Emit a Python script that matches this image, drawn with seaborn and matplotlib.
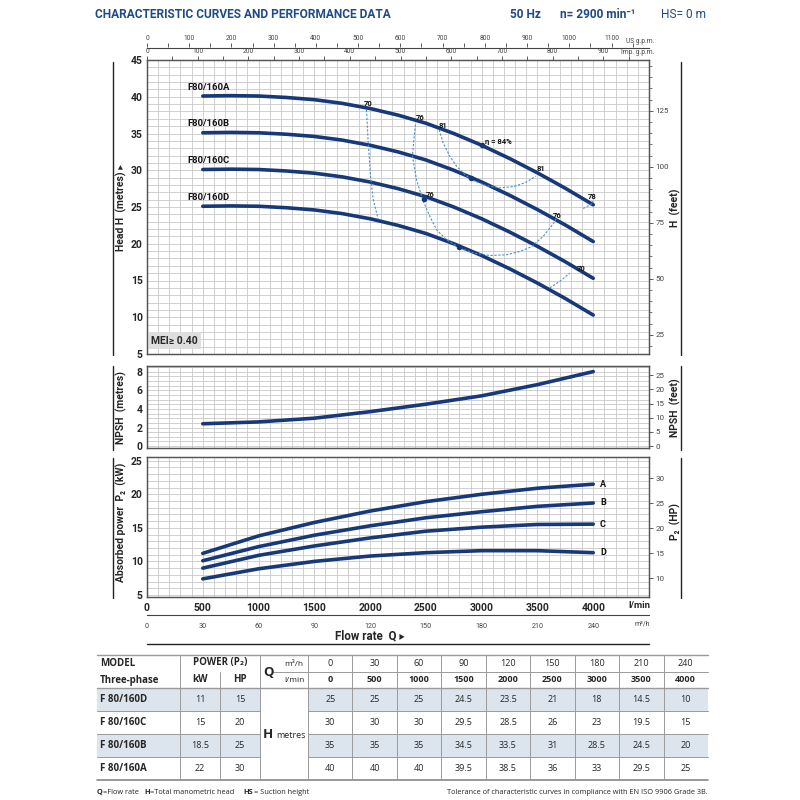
import numpy as np
import pandas as pd
import matplotlib
matplotlib.use('Agg')
import matplotlib.pyplot as plt
import seaborn as sns
from matplotlib.ticker import MultipleLocator
from matplotlib.patches import Rectangle

# ---- performance table (as printed) ----
q_m3h = [0, 30, 60, 90, 120, 150, 180, 210, 240]
q_lmin = [0, 500, 1000, 1500, 2000, 2500, 3000, 3500, 4000]
models = ['F 80/160D', 'F 80/160C', 'F 80/160B', 'F 80/160A']
curve_names = ['F80/160D', 'F80/160C', 'F80/160B', 'F80/160A']
power_kw = [11, 15, 18.5, 22]
power_hp = [15, 20, 25, 30]
head_D = [25, 25, 25, 24.5, 23.5, 21, 18, 14.5, 10]
head_C = [30, 30, 30, 29.5, 28.5, 26, 23, 19.5, 15]
head_B = [35, 35, 35, 34.5, 33.5, 31, 28.5, 24.5, 20]
head_A = [40, 40, 40, 39.5, 38.5, 36, 33, 29.5, 25]

# ---- head curves as drawn, read every 250 l/min from 500 to 4000 ----
q_head = [500, 750, 1000, 1250, 1500, 1750, 2000, 2250, 2500, 2750, 3000,
          3250, 3500, 3750, 4000]
hc_A = [40.1, 40.15, 40.1, 39.9, 39.6, 39.1, 38.4, 37.5, 36.4, 35.0, 33.4,
        31.6, 29.65, 27.55, 25.3]
hc_B = [35.1, 35.15, 35.1, 34.9, 34.6, 34.1, 33.4, 32.5, 31.4, 30.0, 28.4,
        26.6, 24.65, 22.55, 20.3]
hc_C = [30.1, 30.15, 30.1, 29.9, 29.6, 29.1, 28.4, 27.5, 26.4, 25.0, 23.4,
        21.6, 19.65, 17.55, 15.3]
hc_D = [25.1, 25.15, 25.1, 24.9, 24.6, 24.1, 23.4, 22.5, 21.4, 20.0, 18.4,
        16.6, 14.65, 12.55, 10.3]

# ---- 500 .. 4000 l/min ----
q_curve = q_lmin[1:]
npsh_m = [2.4, 2.6, 3.0, 3.7, 4.5, 5.4, 6.6, 8.0]
p2_A = [11.2, 13.8, 15.8, 17.5, 18.9, 20.0, 20.9, 21.5]
p2_B = [10.1, 12.2, 13.9, 15.3, 16.5, 17.4, 18.2, 18.7]
p2_C = [9.0, 10.9, 12.3, 13.5, 14.5, 15.1, 15.5, 15.55]
p2_D = [7.4, 8.9, 10.0, 10.8, 11.3, 11.6, 11.6, 11.3]
p2_letters = ['A', 'B', 'C', 'D']

# iso-efficiency lines (Q l/min, H m)
eff70a_q = [1968, 1983, 2004, 2028, 2073]
eff70a_h = [38.2, 33.7, 29.2, 26.0, 23.3]
eff76_q = [2407, 2392, 2380, 2416, 2476, 2536, 2596, 2685, 2805, 2939, 3073,
           3223, 3342, 3447, 3551, 3641, 3671]
eff76_h = [36.2, 34.2, 31.9, 28.7, 25.8, 23.7, 21.9, 20.55, 19.4, 18.7, 18.4,
           18.5, 18.95, 19.6, 21.0, 22.7, 23.5]
eff81_q = [2619, 2655, 2715, 2775, 2849, 2924, 3044, 3163, 3297, 3402, 3486]
eff81_h = [35.5, 33.7, 31.9, 30.55, 29.4, 28.6, 27.9, 27.6, 27.8, 28.4, 29.2]
eff70b_q = [3611, 3701, 3790]
eff70b_h = [14.0, 14.9, 16.0]
eff78_q = [3910, 3976, 3999]
eff78_h = [24.8, 25.3, 25.8]
bep_q = [2800, 2480, 2900, 3000]
bep_h = [19.6, 26.1, 29.0, 33.4]
eff_text = ['70', '76', '81', 'η = 84%', '81', '76', '76', '78', '70']
eff_text_q = [1979, 2446, 2652, 3030, 3530, 2536, 3674, 3987, 3889]
eff_text_h = [39.1, 37.2, 36.1, 33.9, 30.2, 26.7, 23.8, 26.4, 16.7]

BLUE = '#17397a'
DASH = '#4a90c8'
GRID = '#c9c9c9'
SPINE = '#555555'
TITLE = '#1e4a86'
NARROW = ['Roboto', 'DejaVu Sans']
TFONT = ['Open Sans', 'DejaVu Sans']

sns.set_theme(style='white')
plt.rcParams['font.family'] = NARROW
plt.rcParams['font.stretch'] = 'condensed'

fig = plt.figure(figsize=(8, 8), dpi=100)
W = H = 800.0


def px_axes(l, t, r, b):
    return fig.add_axes([l / W, 1 - b / H, (r - l) / W, (b - t) / H])


XL, XR, QMAX = 147, 649, 4500
ax_h = px_axes(XL, 60, XR, 354)
ax_n = px_axes(XL, 366, XR, 448)
ax_p = px_axes(XL, 457, XR, 597)


def style_panel(ax, ylim, yminor, yticks, conv, rticks, rminor):
    ax.set_xlim(0, QMAX)
    ax.set_ylim(*ylim)
    ax.xaxis.set_major_locator(MultipleLocator(500))
    ax.xaxis.set_minor_locator(MultipleLocator(100))
    ax.yaxis.set_minor_locator(MultipleLocator(yminor))
    ax.set_yticks(yticks)
    ax.grid(which='both', color=GRID, lw=0.6)
    ax.set_axisbelow(True)
    ax.tick_params(which='both', length=0, pad=3)
    for lab in ax.get_yticklabels():
        lab.set_fontweight('bold')
        lab.set_fontsize(7.5)
    ax.set_xlabel('')
    ax.set_ylabel('')
    axr = ax.twinx()
    axr.set_ylim(ylim[0] / conv, ylim[1] / conv)
    axr.set_yticks(rticks)
    axr.yaxis.set_minor_locator(MultipleLocator(rminor))
    axr.tick_params(axis='y', which='major', direction='out', length=3,
                    width=0.6, colors='#444', labelsize=5.8, pad=1.5, right=True)
    axr.tick_params(axis='y', which='minor', direction='out', length=2,
                    width=0.5, colors='#444', right=True)
    axr.grid(False)
    for a in (ax, axr):
        for s in a.spines.values():
            s.set_color(SPINE)
            s.set_linewidth(0.9)
    return axr


# ---- head curves ----
df_head = pd.DataFrame({
    'Q': q_head * 4,
    'H': hc_D + hc_C + hc_B + hc_A,
    'model': np.repeat(curve_names, len(q_head)),
})
sns.lineplot(data=df_head, x='Q', y='H', hue='model', palette=[BLUE] * 4,
             lw=2.6, legend=False, ax=ax_h)
for name, hd in zip(curve_names, [hc_D, hc_C, hc_B, hc_A]):
    ax_h.text(360, hd[0] + 1.2, name, fontsize=6.8, fontweight='bold',
              ha='left', va='center', color='#111')

for qq, hh in [(eff70a_q, eff70a_h), (eff76_q, eff76_h), (eff81_q, eff81_h),
               (eff70b_q, eff70b_h), (eff78_q, eff78_h)]:
    ax_h.plot(qq, hh, color=DASH, lw=0.8, ls=(0, (2, 1.5)), zorder=3)
ax_h.scatter(bep_q, bep_h, s=9, color=BLUE, zorder=4)
for t, qq, hh in zip(eff_text, eff_text_q, eff_text_h):
    ax_h.text(qq, hh, t, fontsize=5.5, fontweight='bold', color='#111',
              ha='left' if t.startswith('η') else 'center', va='center',
              family=NARROW)
ax_h.text(0.008, 0.028, 'MEI≥ 0.40', transform=ax_h.transAxes, fontsize=7.5,
          fontweight='bold', ha='left', va='bottom',
          bbox=dict(facecolor='#dedede', edgecolor='none', pad=2.5))

style_panel(ax_h, (5, 45), 1, list(range(5, 46, 5)), 0.3048,
            [25, 50, 75, 100, 125], 5)
ax_h.set_xticklabels([])

# Imp. g.p.m. scale sits on the top edge of the head chart
sec = ax_h.secondary_xaxis('top', functions=(lambda q: q / 4.54609,
                                             lambda i: i * 4.54609))
sec.set_xticks(range(0, 901, 100))
sec.xaxis.set_minor_locator(MultipleLocator(50))
sec.tick_params(axis='x', which='both', direction='out', width=0.6,
                length=3, colors='#444', labelsize=4.8, pad=0.5)
sec.spines['top'].set_visible(False)

# ---- NPSH ----
df_npsh = pd.DataFrame({'Q': q_curve, 'NPSH': npsh_m})
sns.lineplot(data=df_npsh, x='Q', y='NPSH', color=BLUE, lw=2.6, ax=ax_n)
style_panel(ax_n, (-0.2, 8.6), 0.5, [0, 2, 4, 6, 8], 0.3048,
            [0, 5, 10, 15, 20, 25], 5)
ax_n.set_xticklabels([])

# ---- absorbed power ----
df_pow = pd.DataFrame({
    'Q': q_curve * 4,
    'P2': p2_A + p2_B + p2_C + p2_D,
    'curve': np.repeat(p2_letters, len(q_curve)),
})
sns.lineplot(data=df_pow, x='Q', y='P2', hue='curve', palette=[BLUE] * 4,
             lw=2.6, legend=False, ax=ax_p)
for letter, pv in zip(p2_letters, [p2_A, p2_B, p2_C, p2_D]):
    ax_p.text(q_curve[-1] + 60, pv[-1], letter, fontsize=6.5,
              fontweight='bold', ha='left', va='center', color='#111')
style_panel(ax_p, (4.7, 25.55), 1, [5, 10, 15, 20, 25], 0.7457,
            [10, 15, 20, 25, 30], 5)
ax_p.set_xticks(q_lmin)
ax_p.set_xticklabels([str(v) for v in q_lmin], fontsize=7.5,
                     fontweight='bold')
ax_p.tick_params(axis='x', pad=4)

# ---- US g.p.m. strip on top ----
ax_t = px_axes(XL, 47.3, XR, 47.5)
ax_t.set_xlim(0, QMAX / 3.78541)
ax_t.set_yticks([])
for k in ('left', 'right', 'top'):
    ax_t.spines[k].set_visible(False)
ax_t.spines['bottom'].set_color('#444')
ax_t.spines['bottom'].set_linewidth(0.8)
ax_t.set_xticks(range(0, 1101, 100))
ax_t.xaxis.set_minor_locator(MultipleLocator(50))
ax_t.tick_params(axis='x', which='both', top=True, bottom=False, labeltop=True,
                 labelbottom=False, direction='out', width=0.6, length=3,
                 colors='#444', labelsize=4.8, pad=0.5)

# ---- m3/h strip at the bottom ----
ax_b = px_axes(XL, 615, XR, 615.2)
ax_b.set_xlim(0, QMAX * 0.06)
ax_b.set_yticks([])
for k in ('left', 'right', 'top'):
    ax_b.spines[k].set_visible(False)
ax_b.spines['bottom'].set_color('#444')
ax_b.spines['bottom'].set_linewidth(0.8)
ax_b.set_xticks(q_m3h)
ax_b.tick_params(axis='x', direction='out', length=3.5, width=0.6,
                 colors='#444', labelsize=5.2, pad=2)

# ---- overlay for texts, frames and table ----
ax_o = fig.add_axes([0, 0, 1, 1], zorder=10)
ax_o.set_xlim(0, W)
ax_o.set_ylim(H, 0)
ax_o.axis('off')
ax_o.patch.set_visible(False)

hd_kw = dict(fontsize=8.6, color=TITLE, va='center', ha='left')
ax_o.text(95, 15, 'CHARACTERISTIC CURVES AND PERFORMANCE DATA',
          fontweight='bold', **hd_kw)
ax_o.text(510, 15, '50 Hz', fontweight='bold', **hd_kw)
ax_o.text(560, 15, 'n= 2900 min⁻¹', fontweight='bold', **hd_kw)
ax_o.text(661, 15, 'HS= 0 m', **hd_kw)
ax_o.text(654, 41.5, 'US g.p.m.', fontsize=4.8, color='#444', ha='right',
          va='center')
ax_o.text(654, 53, 'Imp. g.p.m.', fontsize=4.8, color='#444', ha='right',
          va='center')
ax_o.text(650, 606, 'l/min', fontsize=6.8, fontweight='bold', ha='right',
          va='center')
ax_o.text(650, 624, 'm³/h', fontsize=5, color='#444', ha='right',
          va='center', family=NARROW)
ax_o.text(370, 636, 'Flow rate  Q ▸', fontsize=8.3, fontweight='bold',
          ha='center', va='center', family=NARROW)
ax_o.plot([XL, XR], [644, 644], color='#222', lw=1)

side = [((62, 355), 208, 'Head H  (metres) ▸', 'H  (feet)'),
        ((366, 450), 408, 'NPSH  (metres)', 'NPSH  (feet)'),
        ((458, 598), 522, 'Absorbed power  P₂  (kW)', 'P₂  (HP)')]
for (y0, y1), yc, ltxt, rtxt in side:
    ax_o.plot([113, 113], [y0, y1], color='#222', lw=1)
    ax_o.plot([681, 681], [y0, y1], color='#222', lw=1)
    ax_o.text(121, yc, ltxt, rotation=90, fontsize=7.5, fontweight='bold',
              ha='center', va='center', family=NARROW)
    ax_o.text(675, yc, rtxt, rotation=90, fontsize=7.5, fontweight='bold',
              ha='center', va='center', family=NARROW)

# table
LINE = '#9a9a9a'
SHADE = '#dce5ee'
qw = (708 - 308) / len(q_m3h)
q_edges = [308 + i * qw for i in range(len(q_m3h) + 1)]
row_y = [688, 711, 734, 757, 780]
heads = [head_D, head_C, head_B, head_A]

for i in (0, 2):
    ax_o.add_patch(Rectangle((97, row_y[i]), 260 - 97, row_y[i + 1] - row_y[i],
                             color=SHADE, lw=0, zorder=0))
    ax_o.add_patch(Rectangle((308, row_y[i]), 708 - 308,
                             row_y[i + 1] - row_y[i], color=SHADE, lw=0,
                             zorder=0))
ax_o.plot([97, 708], [655, 655], color=LINE, lw=1)
ax_o.plot([273, 708], [672, 672], color=LINE, lw=0.7)
ax_o.plot([97, 708], [688, 688], color=LINE, lw=1)
for y in row_y[1:-1]:
    ax_o.plot([97, 260], [y, y], color=LINE, lw=0.7)
    ax_o.plot([308, 708], [y, y], color=LINE, lw=0.7)
ax_o.plot([97, 708], [780, 780], color='#888', lw=1.2)
for x in [180, 260, 308] + q_edges[1:-1]:
    ax_o.plot([x, x], [655, 780], color=LINE, lw=0.7)
ax_o.plot([220, 220], [672, 780], color=LINE, lw=0.7)

tk = dict(family=TFONT, va='center', fontstretch='normal')
ax_o.text(100, 663, 'MODEL', fontsize=7, fontweight='bold', **tk)
ax_o.text(100, 680, 'Three-phase', fontsize=7, fontweight='bold', **tk)
ax_o.text(220, 663, 'POWER (P₂)', fontsize=7, fontweight='bold', ha='center',
          **tk)
ax_o.text(200, 680, 'kW', fontsize=7, fontweight='bold', ha='center', **tk)
ax_o.text(240, 680, 'HP', fontsize=7, fontweight='bold', ha='center', **tk)
ax_o.text(263, 672, 'Q', fontsize=9.5, fontweight='bold', **tk)
ax_o.text(284, 664, 'm³/h', fontsize=6, **tk)
ax_o.text(284, 680, 'l/min', fontsize=6, **tk)
ax_o.text(263, 735, 'H', fontsize=9.5, fontweight='bold', **tk)
ax_o.text(276, 736, 'metres', fontsize=6.5, **tk)
for j, (m3, lm) in enumerate(zip(q_m3h, q_lmin)):
    xc = (q_edges[j] + q_edges[j + 1]) / 2
    ax_o.text(xc, 664, f'{m3}', fontsize=6.5, ha='center', **tk)
    ax_o.text(xc, 680, f'{lm}', fontsize=6.5, fontweight='bold', ha='center',
              **tk)
for i, (m, kw, hp, hd) in enumerate(zip(models, power_kw, power_hp, heads)):
    yc = (row_y[i] + row_y[i + 1]) / 2
    ax_o.text(100, yc, m, fontsize=7, fontweight='bold', **tk)
    ax_o.text(200, yc, f'{kw:g}', fontsize=6.5, ha='center', **tk)
    ax_o.text(240, yc, f'{hp:g}', fontsize=6.5, ha='center', **tk)
    for j, v in enumerate(hd):
        xc = (q_edges[j] + q_edges[j + 1]) / 2
        ax_o.text(xc, yc, f'{v:g}', fontsize=6.5, ha='center', **tk)

fn = dict(family=TFONT, va='center', fontsize=5.3, fontstretch='normal')
ax_o.text(97, 792, 'Q', fontweight='bold', **fn)
ax_o.text(103, 792, '=Flow rate', **fn)
ax_o.text(144, 792, 'H', fontweight='bold', **fn)
ax_o.text(150, 792, '=Total manometric head', **fn)
ax_o.text(243, 792, 'HS', fontweight='bold', **fn)
ax_o.text(254, 792, '= Suction height', **fn)
ax_o.text(708, 792, 'Tolerance of characteristic curves in compliance with '
          'EN ISO 9906 Grade 3B.', ha='right', **fn)

fig.savefig('out.png', dpi=100)
